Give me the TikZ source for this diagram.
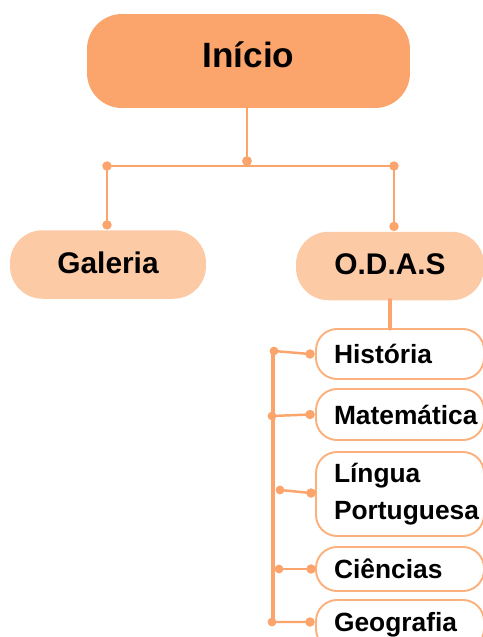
\documentclass[tikz,border=0pt]{standalone}
\usepackage{fontspec}
\setmainfont{Liberation Sans}
\definecolor{laranja}{RGB}{251,164,108}
\definecolor{pessego}{RGB}{253,202,166}
\definecolor{borda}{RGB}{252,176,126}
\begin{document}
\begin{tikzpicture}[x=0.02cm,y=-0.02cm,line join=round,line cap=round,
	topo/.style={fill=laranja,rounded corners=0.7cm,minimum width=6.46cm,minimum height=1.88cm,text depth=0.24cm,font=\fontsize{20}{24}\selectfont\bfseries},
	ramo/.style={fill=pessego,rounded corners=0.65cm,minimum height=1.37cm,text depth=0.08cm,font=\fontsize{17}{20}\selectfont\bfseries},
	materia/.style={draw=borda,line width=1.1pt,fill=white,rounded corners=0.42cm,inner xsep=0.36cm,text width=2.64cm,align=left,font=\fontsize{15}{21}\selectfont\bfseries},
	liga/.style={draw=laranja,line width=1.4pt},
	ponto/.style={fill=laranja}]
	% Quadro
	\useasboundingbox (0,0) rectangle (483,637);
	% Caixas
	\node[topo] (inicio) at (248.5,61) {Início};
	\node[ramo,minimum width=3.92cm] (galeria) at (108,264.5) {Galeria};
	\node[ramo,minimum width=3.76cm] (odas) at (390,266) {O.D.A.S};
	\node[materia,minimum height=1cm] (historia) at (400,354) {História};
	\node[materia,minimum height=1.02cm] (matematica) at (400,414.5) {Matemática};
	\node[materia,minimum height=1.68cm] (lingua) at (400,494) {Língua\\Portuguesa};
	\node[materia,minimum height=0.88cm] (ciencias) at (400,569) {Ciências};
	\node[materia,minimum height=1cm] (geografia) at (400,625) {Geografia};
	% Ligações do topo
	\coordinate (meio) at (247,161);
	\coordinate (esq) at (107,166);
	\coordinate (dir) at (394,166);
	\coordinate (pgal) at ([yshift=0.1cm]esq |- galeria.north);
	\coordinate (podas) at ([yshift=0.1cm]dir |- odas.north);
	\draw[liga] (inicio.south -| meio)--(meio);
	\draw[liga] (esq)--(dir);
	\draw[liga] (esq)--(pgal);
	\draw[liga] (dir)--(podas);
	\fill[ponto] (meio) circle (2.8pt) (esq) circle (2.7pt) (dir) circle (2.7pt)
	(pgal) circle (2.7pt) (podas) circle (2.7pt);
	% Barra das matérias
	\draw[liga,line width=2.8pt] (odas.south)--(odas.south |- historia.north);
	\coordinate (b1) at (274,351);
	\coordinate (b2) at (272,416);
	\coordinate (b3) at (280,490);
	\coordinate (b4) at (279,569);
	\coordinate (b5) at (272,622);
	\draw[liga,line width=2.3pt] (273,350)--(273,622);
	\draw[liga] (b1)--([xshift=-0.1cm]historia.west);
	\draw[liga] (b2)--([xshift=-0.1cm]matematica.west);
	\draw[liga] (b3)--([xshift=-0.08cm,yshift=0.02cm]lingua.west);
	\draw[liga] (b4)--([xshift=-0.08cm]ciencias.west);
	\draw[liga] (b5)--([xshift=-0.1cm,yshift=0.06cm]geografia.west);
	\fill[ponto] (b1) circle (2.5pt) (b2) circle (2.5pt) (b3) circle (2.5pt)
	(b4) circle (2.5pt) (b5) circle (2.5pt)
	([xshift=-0.1cm]historia.west) circle (2.7pt)
	([xshift=-0.1cm]matematica.west) circle (2.7pt)
	([xshift=-0.08cm,yshift=0.02cm]lingua.west) circle (2.7pt)
	([xshift=-0.08cm]ciencias.west) circle (2.7pt)
	([xshift=-0.1cm,yshift=0.06cm]geografia.west) circle (2.7pt);
\end{tikzpicture}
\end{document}
